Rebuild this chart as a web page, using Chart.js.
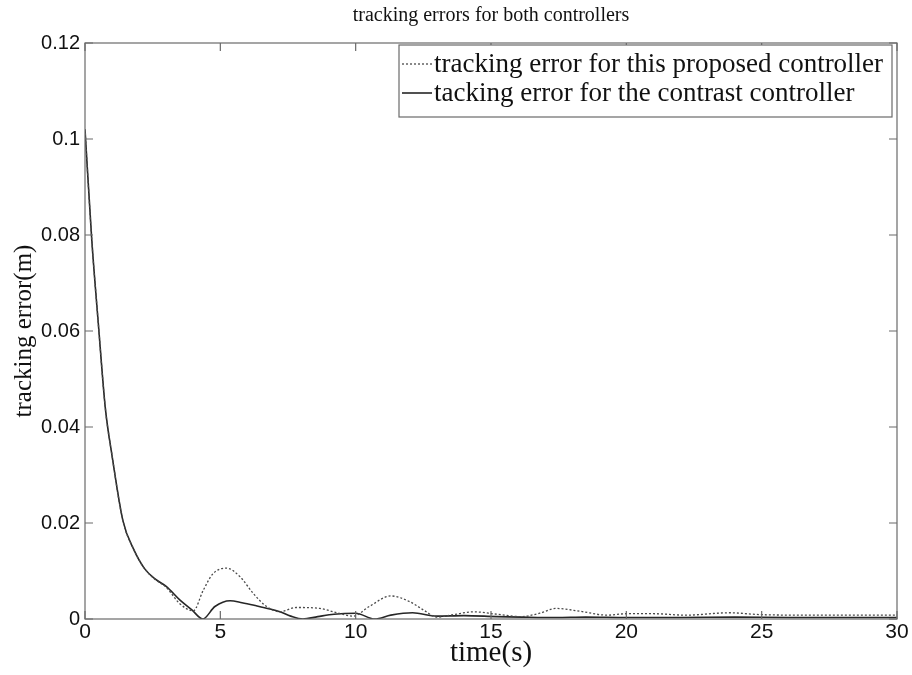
<!DOCTYPE html>
<html><head><meta charset="utf-8">
<script src="https://cdn.jsdelivr.net/npm/chart.js@4/dist/chart.umd.min.js"></script>
<style>html,body{margin:0;padding:0;background:#fff}#wrap{width:912px;height:675px}</style>
</head><body><div id="wrap"><canvas id="c" width="912" height="675"></canvas></div>
<script>
const chartTitle = 'tracking errors for both controllers';
const xTitle = 'time(s)';
const yTitle = 'tracking error(m)';
const seriesNames = ['tracking error for this proposed controller', 'tacking error for the contrast controller'];

const timeProposed = [0, 0.25, 0.5, 0.75, 1.0, 1.4, 1.8, 2.2, 2.6, 3.0, 3.5, 4.0, 4.37, 4.74, 5.23, 5.73, 6.22, 6.71, 7.2, 7.8, 8.68, 9.3, 9.9, 10.5, 11.3, 12.0, 12.5, 13.0, 13.6, 14.35, 15.2, 16.1, 16.8, 17.4, 18.3, 19.3, 20.0, 21.0, 22.2, 23.8, 25.0, 27.0, 30.0];
const errProposed = [0.102, 0.079, 0.061, 0.044, 0.034, 0.0205, 0.0145, 0.0105, 0.0082, 0.0066, 0.0032, 0.0017, 0.0060, 0.0095, 0.0106, 0.0088, 0.0053, 0.0026, 0.0015, 0.0024, 0.0022, 0.0013, 0.0006, 0.0026, 0.0048, 0.0036, 0.0019, 0.0004, 0.0009, 0.0015, 0.0010, 0.0005, 0.0012, 0.0022, 0.0016, 0.0008, 0.0011, 0.0011, 0.0008, 0.0013, 0.0009, 0.0008, 0.0008];

const timeContrast = [0, 0.25, 0.5, 0.75, 1.0, 1.4, 1.8, 2.2, 2.6, 3.0, 3.5, 3.95, 4.35, 4.8, 5.36, 5.8, 6.3, 6.83, 7.2, 7.6, 8.05, 8.6, 9.2, 10.0, 10.7, 11.3, 12.1, 13.0, 14.0, 15.2, 16.1, 17.4, 18.5, 20, 22, 24, 26, 28, 30];
const errContrast = [0.102, 0.079, 0.061, 0.044, 0.034, 0.0205, 0.0145, 0.0105, 0.0083, 0.0068, 0.0040, 0.0019, 0.0, 0.0026, 0.0038, 0.0034, 0.0028, 0.0021, 0.0015, 0.0006, 0.0, 0.0005, 0.0010, 0.0012, 0.0, 0.0008, 0.0013, 0.0006, 0.0007, 0.0005, 0.0004, 0.0003, 0.0004, 0.0003, 0.0003, 0.0004, 0.0003, 0.0003, 0.0003];

const xTicks = [0, 5, 10, 15, 20, 25, 30];
const yTicks = [0, 0.02, 0.04, 0.06, 0.08, 0.1, 0.12];
const yTickLabels = ['0', '0.02', '0.04', '0.06', '0.08', '0.1', '0.12'];

const frameColor = '#6a6a6a';

const framePlugin = {
  id: 'frame',
  afterDatasetsDraw(chart) {
    const {ctx, chartArea: a, scales} = chart;
    ctx.save();
    ctx.strokeStyle = frameColor;
    ctx.lineWidth = 1.2;
    ctx.strokeRect(a.left, a.top, a.right - a.left, a.bottom - a.top);
    const L = 8;
    ctx.beginPath();
    xTicks.forEach(v => {
      const px = scales.x.getPixelForValue(v);
      ctx.moveTo(px, a.bottom); ctx.lineTo(px, a.bottom - L);
      ctx.moveTo(px, a.top); ctx.lineTo(px, a.top + L);
    });
    yTicks.forEach(v => {
      const py = scales.y.getPixelForValue(v);
      ctx.moveTo(a.left, py); ctx.lineTo(a.left + L, py);
      ctx.moveTo(a.right, py); ctx.lineTo(a.right - L, py);
    });
    ctx.stroke();
    ctx.restore();
  }
};

const legendPlugin = {
  id: 'boxLegend',
  afterDraw(chart) {
    const {ctx, chartArea: a} = chart;
    const w = 493, h = 72;
    const x0 = a.right - 5 - w, y0 = a.top + 2;
    ctx.save();
    ctx.fillStyle = '#fff';
    ctx.fillRect(x0, y0, w, h);
    ctx.strokeStyle = frameColor;
    ctx.lineWidth = 1.2;
    ctx.strokeRect(x0, y0, w, h);
    const ds = chart.data.datasets;
    const rows = [y0 + 19, y0 + 48];
    ds.forEach((d, i) => {
      ctx.beginPath();
      ctx.strokeStyle = d.borderColor;
      ctx.lineWidth = d.borderWidth;
      ctx.setLineDash(d.borderDash || []);
      ctx.moveTo(x0 + 3, rows[i]);
      ctx.lineTo(x0 + 33, rows[i]);
      ctx.stroke();
      ctx.setLineDash([]);
      ctx.fillStyle = '#111';
      ctx.font = '27px "Liberation Serif", "Times New Roman", serif';
      ctx.textBaseline = 'middle';
      ctx.textAlign = 'left';
      ctx.fillText(d.label, x0 + 35, rows[i] + 1);
    });
    ctx.restore();
  }
};

new Chart(document.getElementById('c'), {
  type: 'line',
  data: {
    datasets: [
      {
        label: seriesNames[0],
        data: timeProposed.map((t, i) => ({x: t, y: errProposed[i]})),
        borderColor: '#4a4a4a',
        borderWidth: 1.3,
        borderDash: [2, 2],
        pointRadius: 0,
        cubicInterpolationMode: 'monotone',
        fill: false
      },
      {
        label: seriesNames[1],
        data: timeContrast.map((t, i) => ({x: t, y: errContrast[i]})),
        borderColor: '#262626',
        borderWidth: 1.6,
        pointRadius: 0,
        cubicInterpolationMode: 'monotone',
        fill: false
      }
    ]
  },
  options: {
    responsive: false,
    animation: false,
    devicePixelRatio: 1,
    layout: {padding: {top: 0, right: 15, bottom: 0, left: 0}},
    plugins: {
      legend: {display: false},
      tooltip: {enabled: false},
      title: {
        display: true,
        text: chartTitle,
        fullSize: false,
        color: '#111',
        font: {family: '"Liberation Serif", "Times New Roman", serif', size: 20, weight: 'normal'},
        padding: {top: 4, bottom: 15}
      }
    },
    scales: {
      x: {
        type: 'linear',
        min: 0, max: 30,
        afterBuildTicks: s => { s.ticks = xTicks.map(v => ({value: v})); },
        afterFit: s => { s.height = 56; },
        grid: {display: false, drawTicks: false},
        border: {display: false},
        ticks: {
          color: '#111',
          padding: 1,
          maxRotation: 0,
          font: {family: '"Liberation Sans", Arial, sans-serif', size: 21},
          callback: v => String(v)
        },
        title: {
          display: true, text: xTitle, color: '#111',
          font: {family: '"Liberation Serif", "Times New Roman", serif', size: 29},
          padding: {top: 0, bottom: 4}
        }
      },
      y: {
        type: 'linear',
        min: 0, max: 0.12,
        afterBuildTicks: s => { s.ticks = yTicks.map(v => ({value: v})); },
        afterFit: s => { s.width = 85; },
        grid: {display: false, drawTicks: false},
        border: {display: false},
        ticks: {
          color: '#111',
          padding: 5,
          font: {family: '"Liberation Sans", Arial, sans-serif', size: 20},
          callback: (v) => { const i = yTicks.findIndex(t => Math.abs(t - v) < 1e-9); return i >= 0 ? yTickLabels[i] : ''; }
        },
        title: {
          display: true, text: yTitle, color: '#111',
          font: {family: '"Liberation Serif", "Times New Roman", serif', size: 25},
          padding: {top: 9, bottom: 0}
        }
      }
    }
  },
  plugins: [framePlugin, legendPlugin]
});
</script>
</body></html>
